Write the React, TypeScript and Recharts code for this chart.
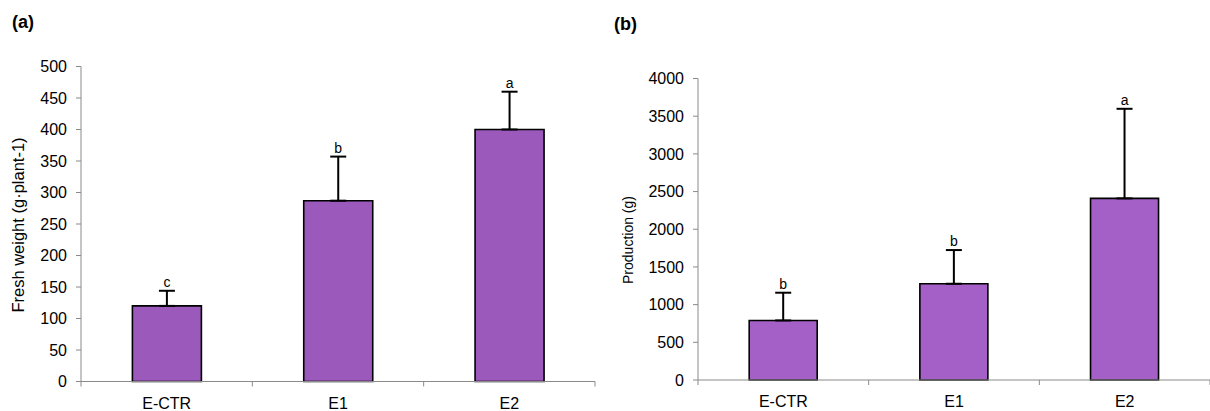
import { Bar, BarChart, ErrorBar, LabelList, XAxis, YAxis } from 'recharts';

const categories = ['E-CTR', 'E1', 'E2'];

const freshWeight = [120, 287, 400];
const freshWeightSd = [24, 70, 60];
const freshWeightLetters = ['c', 'b', 'a'];
const freshWeightTicks = [0, 50, 100, 150, 200, 250, 300, 350, 400, 450, 500];

const production = [790, 1277, 2409];
const productionSd = [368, 447, 1189];
const productionLetters = ['b', 'b', 'a'];
const productionTicks = [0, 500, 1000, 1500, 2000, 2500, 3000, 3500, 4000];

const FONT = '"Liberation Sans", Arial, Helvetica, sans-serif';
const AXIS_GREY = '#8a8a8a';

type Row = { name: string; value: number; sd: number[]; letter: string };

function buildRows(values: number[], sd: number[], letters: string[]): Row[] {
  return categories.map((name, i) => ({ name, value: values[i], sd: [0, sd[i]], letter: letters[i] }));
}

// category labels centred, small tick marks on the band edges (excel style)
function CategoryTick(props: any) {
  const { x, y, payload, index, visibleTicksCount } = props;
  const half = payload && payload.offset ? payload.offset : 0;
  return (
    <g>
      {half > 0 && <line x1={x - half} x2={x - half} y1={y} y2={y + 5} stroke={AXIS_GREY} />}
      {half > 0 && index === visibleTicksCount - 1 && (
        <line x1={x + half} x2={x + half} y1={y} y2={y + 5} stroke={AXIS_GREY} />
      )}
      <text x={x} y={y + 27} textAnchor="middle" fontSize={16} fontFamily={FONT} fill="#000">
        {payload.value}
      </text>
    </g>
  );
}

function letterLabel(rows: Row[]) {
  return (props: any) => {
    const x = Number(props.x);
    const y = Number(props.y);
    const w = Number(props.width);
    const h = Number(props.height);
    const row = rows[props.index];
    if (!row) return null;
    const top = y - (row.sd[1] * h) / row.value;
    return (
      <text x={x + w / 2} y={top - 4} textAnchor="middle" fontSize={14} fontFamily={FONT} fill="#000">
        {row.letter}
      </text>
    );
  };
}

function yTitle(text: string, x: number, y: number, size: number) {
  return () => (
    <text
      x={x}
      y={y}
      transform={`rotate(-90, ${x}, ${y})`}
      textAnchor="middle"
      dominantBaseline="central"
      fontSize={size}
      fontFamily={FONT}
      fill="#000"
    >
      {text}
    </text>
  );
}

interface PanelProps {
  rows: Row[];
  ticks: number[];
  fill: string;
  top: number;
  right: number;
  yAxisWidth: number;
  xAxisHeight: number;
  title: string;
  titleX: number;
  titleY: number;
  titleSize: number;
}

function Panel(p: PanelProps) {
  return (
    <BarChart
      width={605}
      height={411}
      data={p.rows}
      margin={{ top: p.top, right: p.right, bottom: 0, left: 0 }}
      barCategoryGap="30%"
    >
      <XAxis
        dataKey="name"
        height={p.xAxisHeight}
        axisLine={{ stroke: AXIS_GREY }}
        tickLine={false}
        tickSize={0}
        tickMargin={0}
        interval={0}
        tick={<CategoryTick />}
      />
      <YAxis
        width={p.yAxisWidth}
        domain={[0, p.ticks[p.ticks.length - 1]]}
        ticks={p.ticks}
        interval={0}
        axisLine={{ stroke: AXIS_GREY }}
        tickLine={{ stroke: AXIS_GREY }}
        tickSize={5}
        tickMargin={9}
        tick={{ fontSize: 16, fontFamily: FONT, fill: '#000' }}
        label={yTitle(p.title, p.titleX, p.titleY, p.titleSize)}
      />
      <Bar dataKey="value" fill={p.fill} stroke="#000" strokeWidth={1.6} isAnimationActive={false}>
        <ErrorBar dataKey="sd" direction="y" width={8} stroke="#000" strokeWidth={2} />
        <LabelList dataKey="letter" content={letterLabel(p.rows)} />
      </Bar>
    </BarChart>
  );
}

export default function App() {
  const freshRows = buildRows(freshWeight, freshWeightSd, freshWeightLetters);
  const productionRows = buildRows(production, productionSd, productionLetters);

  return (
    <div style={{ position: 'absolute', left: 0, top: 0, width: 1210, height: 411, background: '#fff' }}>
      <div style={{ position: 'absolute', left: 0, top: 0 }}>
        <Panel
          rows={freshRows}
          ticks={freshWeightTicks}
          fill="#9b59bb"
          top={66.5}
          right={10}
          yAxisWidth={81}
          xAxisHeight={29.5}
          title="Fresh weight (g·plant-1)"
          titleX={18}
          titleY={225}
          titleSize={16.5}
        />
      </div>
      <div style={{ position: 'absolute', left: 605, top: 0 }}>
        <Panel
          rows={productionRows}
          ticks={productionTicks}
          fill="#a560c8"
          top={78.5}
          right={0}
          yAxisWidth={93}
          xAxisHeight={31}
          title="Production (g)"
          titleX={23}
          titleY={240}
          titleSize={14}
        />
      </div>
      <svg width={1210} height={411} style={{ position: 'absolute', left: 0, top: 0, pointerEvents: 'none' }}>
        <text x={12} y={28} fontSize={18} fontWeight="bold" fontFamily={FONT} fill="#000">
          (a)
        </text>
        <text x={614} y={30} fontSize={18} fontWeight="bold" fontFamily={FONT} fill="#000">
          (b)
        </text>
      </svg>
    </div>
  );
}
